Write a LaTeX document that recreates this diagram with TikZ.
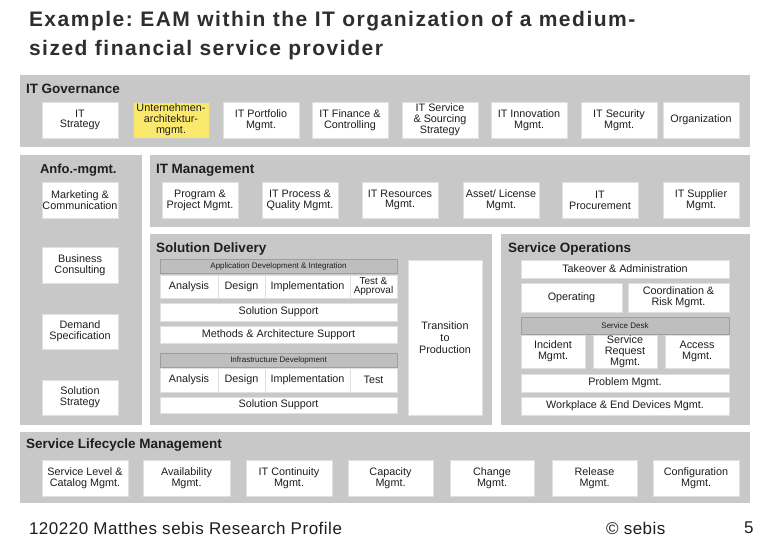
\documentclass[tikz,border=0pt]{standalone}
\usepackage{fontspec}
\setmainfont{Liberation Sans}
\newfontfamily\titlefont[LetterSpace=7.2]{Liberation Sans}
\newfontfamily\footfont[LetterSpace=3]{Liberation Sans}
\frenchspacing
\definecolor{panelgray}{HTML}{C8C8C8}
\definecolor{hdrgray}{HTML}{BEBEBE}
\definecolor{hdrline}{HTML}{9E9E9E}
\definecolor{ylw}{HTML}{FBE96E}
\definecolor{ink}{HTML}{1E1E1E}
\definecolor{titleink}{HTML}{2E2E2E}
\newcommand\rbox[7][box]{%
  \node[#1, minimum width={(#5-#3)*1pt}, minimum height={(#6-#4)*1pt}] (#2) at ({(#3+#5)/2},{(#4+#6)/2}) {#7};}
\begin{document}
\begin{tikzpicture}[x=1pt,y=-1pt,
  every node/.style={inner sep=0pt, outer sep=0pt, text=ink},
  panel/.style={fill=panelgray, draw=none},
  box/.style={fill=white, draw=black!12, line width=0.6pt, align=center, font=\fontsize{10.8}{10.8}\selectfont},
  tpbox/.style={box, font=\fontsize{10.8}{12}\selectfont},
  tabox/.style={box, font=\fontsize{10}{9.6}\selectfont},
  ybox/.style={box, fill=ylw, draw=black!20},
  hdr/.style={fill=hdrgray, draw=hdrline, line width=0.5pt, align=center, font=\fontsize{8}{8}\selectfont},
  ptitle/.style={anchor=west, font=\bfseries\fontsize{13.5}{14}\selectfont},
  ttl/.style={anchor=west, text=titleink, font=\titlefont\bfseries\fontsize{21}{22}\selectfont},
  foot/.style={anchor=west, text=ink, font=\footfont\fontsize{17}{18}\selectfont}]
\useasboundingbox (0,0) rectangle (780,540);
\fill[white] (0,0) rectangle (780,540);
% title
\node[ttl] (t1) at (29,21) {Example: EAM within the IT organization of a medium-};
\node[ttl] (t2) at (29,50) {sized financial service provider};
% panels
\rbox[panel]{pgov}{20}{75}{750}{147}{}
\rbox[panel]{panf}{20}{155}{142}{425}{}
\rbox[panel]{pitm}{150}{155}{750}{227}{}
\rbox[panel]{psd}{150}{234}{492}{425}{}
\rbox[panel]{pso}{501}{234}{750}{425}{}
\rbox[panel]{pslm}{20}{432}{750}{503}{}
% panel titles
\node[ptitle] (tgov) at (26,89) {IT Governance};
\node[ptitle, font=\bfseries\fontsize{13}{14}\selectfont] (tanf) at (40,170) {Anfo.-mgmt.};
\node[ptitle] (titm) at (156,170) {IT Management};
\node[ptitle] (tsd) at (156,249) {Solution Delivery};
\node[ptitle] (tso) at (508,249) {Service Operations};
\node[ptitle] (tslm) at (26,445) {Service Lifecycle Management};
% IT Governance
\rbox{g1}{42}{102}{118}{138}{IT\\Strategy}
\rbox[ybox]{g2}{133}{102}{209}{138}{Unternehmen-\\architektur-\\mgmt.}
\rbox{g3}{223}{102}{299}{138}{IT Portfolio\\Mgmt.}
\rbox{g4}{312}{102}{388}{138}{IT Finance \&\\Controlling}
\rbox{g5}{402}{102}{478}{138}{IT Service\\\& Sourcing\\Strategy}
\rbox{g6}{491}{102}{567}{138}{IT Innovation\\Mgmt.}
\rbox{g7}{581}{102}{657}{138}{IT Security\\Mgmt.}
\rbox{g8}{663}{102}{739}{138}{Organization}
% Anfo
\rbox{a1}{42}{182}{118}{218}{Marketing \&\\Communication}
\rbox{a2}{42}{247}{118}{283}{Business\\Consulting}
\rbox{a3}{42}{314}{118}{349}{Demand\\Specification}
\rbox{a4}{42}{380}{118}{415}{Solution\\Strategy}
% IT Management
\rbox{m1}{162}{182}{238}{218}{Program \&\\Project Mgmt.}
\rbox{m2}{262}{182}{338}{218}{IT Process \&\\Quality Mgmt.}
\rbox{m3}{362}{182}{438}{218}{IT Resources\\Mgmt.}
\rbox{m4}{463}{182}{539}{218}{Asset/ License\\Mgmt.}
\rbox{m5}{562}{182}{638}{218}{IT\\Procurement}
\rbox{m6}{663}{182}{739}{218}{IT Supplier\\Mgmt.}
% Solution Delivery
\rbox[hdr]{sdh1}{160}{259}{397}{273}{Application Development \& Integration}
\rbox{sa1}{160}{275}{218}{298}{Analysis}
\rbox{sd1}{218}{275}{265}{298}{Design}
\rbox{si1}{265}{275}{350}{298}{Implementation}
\rbox[tabox]{st1}{350}{275}{397}{298}{Test \&\\Approval}
\rbox{ss1}{160}{303}{397}{321}{Solution Support}
\rbox{sm}{160}{326}{397}{343}{Methods \& Architecture Support}
\rbox[hdr]{sdh2}{160}{353}{397}{367}{Infrastructure Development}
\rbox{sa2}{160}{368}{218}{392}{Analysis}
\rbox{sd2}{218}{368}{265}{392}{Design}
\rbox{si2}{265}{368}{350}{392}{Implementation}
\rbox{st2}{350}{368}{397}{392}{Test}
\rbox{ss2}{160}{397}{397}{413}{Solution Support}
\rbox[tpbox]{stp}{408}{260}{482}{415}{Transition\\to\\Production}
% Service Operations
\rbox{o1}{521}{260}{729}{278}{Takeover \& Administration}
\rbox{o2}{521}{283}{622}{312}{Operating}
\rbox{o3}{628}{283}{729}{312}{Coordination \&\\Risk Mgmt.}
\rbox[hdr]{osd}{521}{317}{729}{334}{Service Desk}
\rbox{o4}{521}{335}{585}{368}{Incident\\Mgmt.}
\rbox{o5}{593}{335}{657}{368}{Service\\Request\\Mgmt.}
\rbox{o6}{665}{335}{729}{368}{Access\\Mgmt.}
\rbox{o7}{521}{374}{729}{392}{Problem Mgmt.}
\rbox{o8}{521}{397}{729}{415}{Workplace \& End Devices Mgmt.}
% Service Lifecycle Management
\rbox{l1}{42}{460}{128}{496}{Service Level \&\\Catalog Mgmt.}
\rbox{l2}{143}{460}{230}{496}{Availability\\Mgmt.}
\rbox{l3}{246}{460}{332}{496}{IT Continuity\\Mgmt.}
\rbox{l4}{348}{460}{433}{496}{Capacity\\Mgmt.}
\rbox{l5}{450}{460}{534}{496}{Change\\Mgmt.}
\rbox{l6}{552}{460}{637}{496}{Release\\Mgmt.}
\rbox{l7}{653}{460}{739}{496}{Configuration\\Mgmt.}
% footer
\node[foot] (f1) at (29,528) {120220 Matthes sebis Research Profile};
\node[foot] (f2) at (606,528) {© sebis};
\node[foot] (f3) at (744,528) {5};
\end{tikzpicture}
\end{document}
